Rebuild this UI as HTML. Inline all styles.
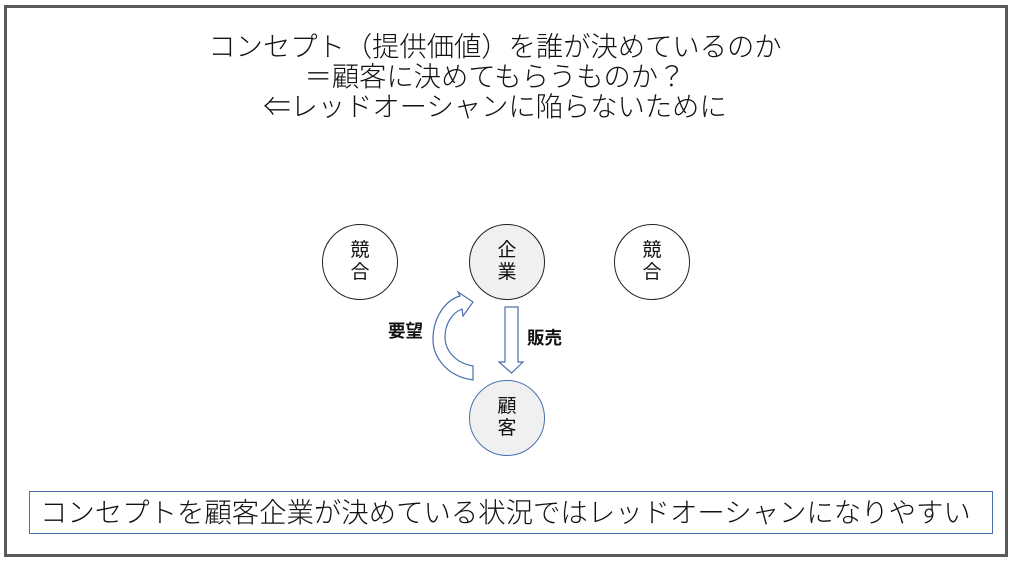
<!DOCTYPE html>
<html><head><meta charset="utf-8"><style>
body{margin:0;width:1016px;height:571px;background:#fff;position:relative;overflow:hidden;font-family:"Liberation Sans","Noto Sans CJK JP",sans-serif;}
.frame{position:absolute;left:4px;top:5px;width:998px;height:546px;border:3px solid #595959;}
.title{position:absolute;left:0;width:990px;top:32px;text-align:center;font-size:27.3px;line-height:30px;color:#111;white-space:nowrap;font-weight:300;}
.circ{position:absolute;width:74px;height:74px;border:1.5px solid #222;border-radius:50%;display:flex;align-items:center;justify-content:center;text-align:center;font-size:19px;line-height:22px;color:#111;}
.lbl{position:absolute;font-weight:bold;font-size:17.5px;color:#111;}
.bottom{position:absolute;left:29px;top:491px;width:964px;height:43px;border:1px solid #4a6fb0;font-size:27.4px;line-height:41px;padding-left:10px;box-sizing:border-box;white-space:nowrap;color:#111;font-weight:300;}
</style></head><body>
<div class="frame"></div>
<div class="title">コンセプト（提供価値）を誰が決めているのか<br>＝顧客に決めてもらうものか？<br>⇐レッドオーシャンに陥らないために</div>
<div class="circ" style="left:322px;top:224px;">競<br>合</div>
<div class="circ" style="left:469px;top:224px;background:#f0f0f0;">企<br>業</div>
<div class="circ" style="left:614px;top:224px;">競<br>合</div>
<div class="circ" style="left:469px;top:380px;background:#f0f0f0;border-color:#4a6fb0;">顧<br>客</div>
<svg style="position:absolute;left:0;top:0" width="1016" height="571">
<path d="M505 307 H518 V362 H523 L511.5 373 L499 362 H505 Z" fill="#fff" stroke="#4a6fb0" stroke-width="1.2"/>
<path d="M473 380 C445 376 432 355 433 337 C434 316 446 300 460 296 L458 292 L473 302 L463 316 L462 309 C452 313 445 324 445 337 C445 350 455 363 473 366 Z" fill="#fff" stroke="#4a6fb0" stroke-width="1.2"/>
</svg>
<div class="lbl" style="left:388px;top:318px;">要望</div>
<div class="lbl" style="left:527px;top:325px;">販売</div>
<div class="bottom">コンセプトを顧客企業が決めている状況ではレッドオーシャンになりやすい</div>
</body></html>
